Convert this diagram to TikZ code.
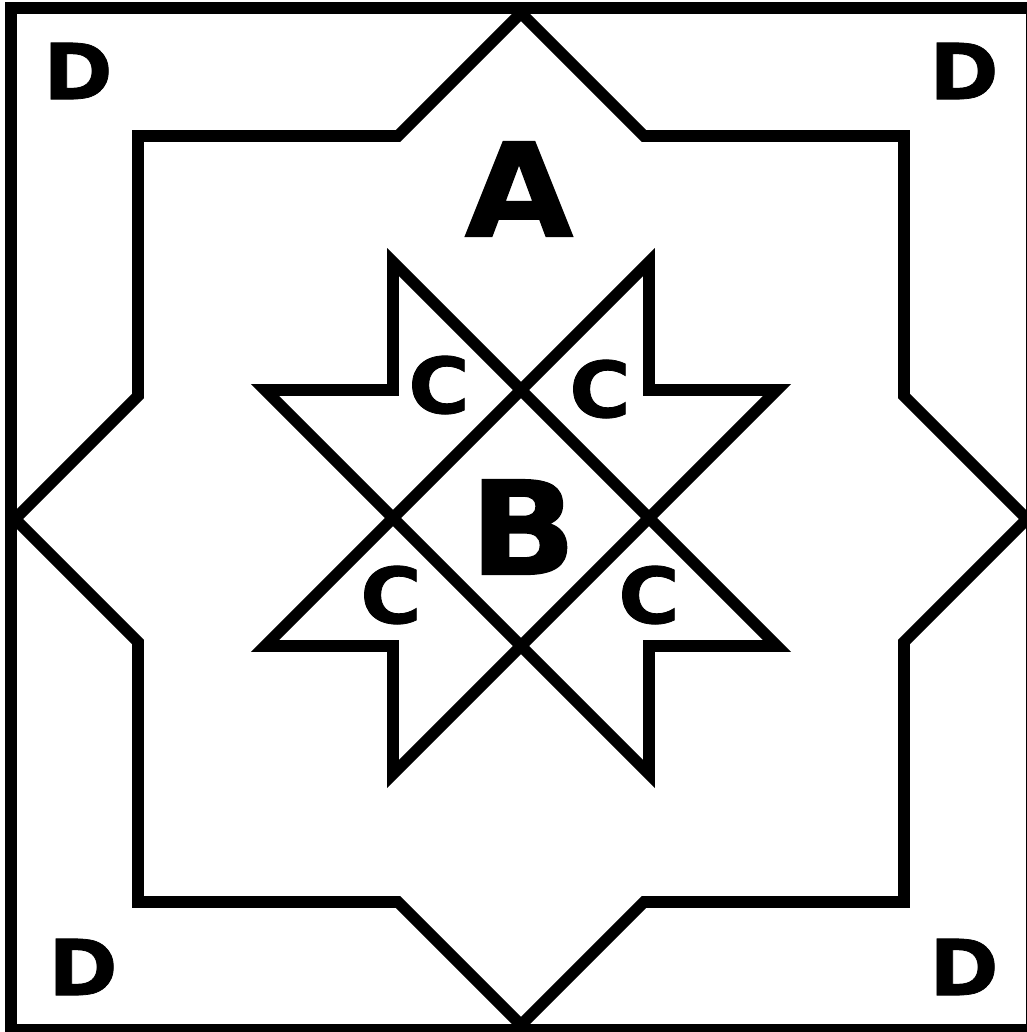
\documentclass[tikz,border=0pt]{standalone}
\usepackage{fontspec}
\setmainfont{DejaVu Sans}
\newfontfamily\lblfont[FakeStretch=1.08, FakeBold=1]{DejaVu Sans Bold}
\begin{document}
\begin{tikzpicture}[x=0.01cm, y=-0.01cm, line width=3.3pt,
    biglbl/.style={font=\lblfont\fontsize{37}{37}\selectfont, inner sep=0pt},
    smalllbl/.style={font=\lblfont\fontsize{22}{22}\selectfont, inner sep=0pt}]
  \useasboundingbox (0,0) rectangle (1027,1032);
  \clip (0,0) rectangle (1027,1032);
  % frame
  \draw (11,8) rectangle (1032,1030);
  % square with four spikes
  \draw (138,136) -- (398,136) -- (521,13) -- (644,136) -- (904,136)
    -- (904,396) -- (1027,519) -- (904,642) -- (904,902)
    -- (644,902) -- (521,1025) -- (398,902) -- (138,902)
    -- (138,642) -- (15,519) -- (138,396) -- cycle;
  % inner star, two crossing loops
  \draw (393,262) -- (393,390) -- (265,390) -- (649,774) -- (649,646) -- (777,646) -- cycle;
  \draw (649,262) -- (649,390) -- (777,390) -- (393,774) -- (393,646) -- (265,646) -- cycle;
  % labels
  \node[biglbl] (A) at (519,189) {A};
  \node[biglbl] (B) at (523,527) {B};
  \foreach \i/\x/\y in {1/439/385, 2/600/389, 3/391/595, 4/649/595}
    \node[smalllbl] (c\i) at (\x,\y) {C};
  \foreach \i/\x/\y in {1/78/71, 2/964/71, 3/83/967, 4/964/967}
    \node[smalllbl] (d\i) at (\x,\y) {D};
\end{tikzpicture}
\end{document}
